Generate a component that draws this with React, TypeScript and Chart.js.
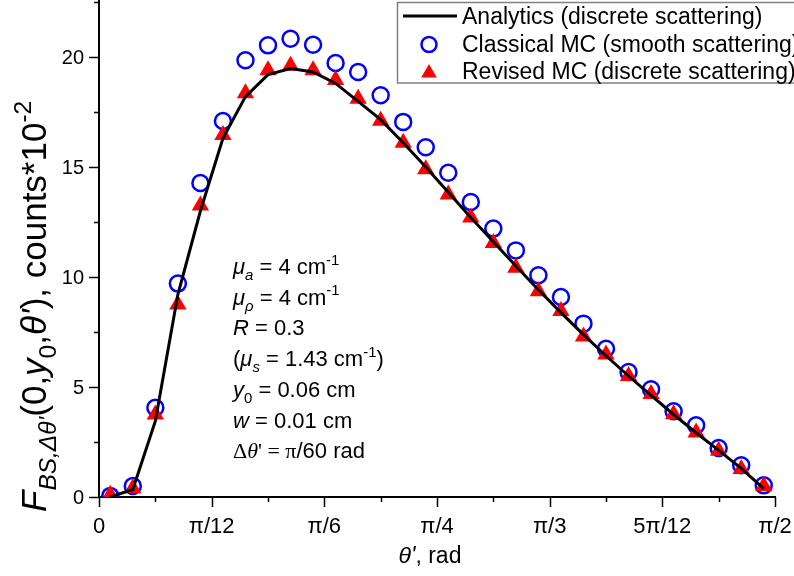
import React, { useEffect, useRef } from "react";
import { Chart, registerables } from "chart.js";

Chart.register(...registerables);

// bin centres in units of pi/120 (bin width pi/60)
const binCentres = [1, 3, 5, 7, 9, 11, 13, 15, 17, 19, 21, 23, 25, 27, 29, 31, 33, 35, 37, 39, 41, 43, 45, 47, 49, 51, 53, 55, 57, 59];

const analytics = [0.0, 0.34, 3.45, 9.2, 13.0, 16.3, 18.2, 19.2, 19.48, 19.32, 18.8, 17.98, 17.15, 16.1, 15.0, 13.85, 12.7, 11.6, 10.5, 9.42, 8.38, 7.38, 6.42, 5.5, 4.62, 3.75, 2.92, 2.12, 1.3, 0.38];
const classicalMC = [0.05, 0.5, 4.06, 9.7, 14.27, 17.09, 19.85, 20.53, 20.83, 20.56, 19.73, 19.32, 18.26, 17.05, 15.9, 14.74, 13.41, 12.2, 11.21, 10.08, 9.09, 7.88, 6.74, 5.68, 4.9, 3.9, 3.26, 2.23, 1.44, 0.53];
const revisedMC = [0.1, 0.4, 3.75, 8.75, 13.25, 16.45, 18.35, 19.4, 19.6, 19.4, 18.95, 18.1, 17.1, 16.1, 14.9, 13.75, 12.7, 11.55, 10.42, 9.35, 8.45, 7.3, 6.48, 5.5, 4.68, 3.76, 2.93, 2.1, 1.27, 0.5];

// x ticks in units of pi/24
const xTickNums = [0, 1, 2, 3, 4, 5, 6, 7, 8, 9, 10, 11, 12];
const xTickLabels = ["0", "", "π/12", "", "π/6", "", "π/4", "", "π/3", "", "5π/12", "", "π/2"];
const yTickVals = [0, 2.5, 5, 7.5, 10, 12.5, 15, 17.5, 20, 22.5];
const yTickLabels = ["0", "", "5", "", "10", "", "15", "", "20", ""];

const legendLabels = ["Analytics (discrete scattering)", "Classical MC (smooth scattering)", "Revised MC (discrete scattering)"];

type Seg = { t: string; it?: boolean; pos?: "sub" | "sup"; serif?: boolean };

const annotationLines: Seg[][] = [
  [{ t: "μ", it: true }, { t: "a", it: true, pos: "sub" }, { t: " = 4 cm" }, { t: "-1", pos: "sup" }],
  [{ t: "μ", it: true }, { t: "ρ", it: true, pos: "sub" }, { t: " = 4 cm" }, { t: "-1", pos: "sup" }],
  [{ t: "R", it: true }, { t: " = 0.3" }],
  [{ t: "(" }, { t: "μ", it: true }, { t: "s", it: true, pos: "sub" }, { t: " = 1.43 cm" }, { t: "-1", pos: "sup" }, { t: ")" }],
  [{ t: "y", it: true }, { t: "0", pos: "sub" }, { t: " = 0.06 cm" }],
  [{ t: "w", it: true }, { t: " = 0.01 cm" }],
  [{ t: "Δ", serif: true }, { t: "θ", it: true, serif: true }, { t: "' = π", serif: true }, { t: "/60 rad" }],
];

const yTitle: Seg[] = [
  { t: "F", it: true },
  { t: "BS,Δθ'", it: true, pos: "sub" },
  { t: "(0," },
  { t: "y", it: true },
  { t: "0", pos: "sub" },
  { t: "," },
  { t: "θ'", it: true },
  { t: "), counts*10" },
  { t: "-2", pos: "sup" },
];
const xTitle: Seg[] = [{ t: "θ'", it: true }, { t: ", rad" }];

const SANS = '"Liberation Sans", Arial, sans-serif';
const SERIF = '"Liberation Serif", "Times New Roman", serif';

function drawRich(ctx: CanvasRenderingContext2D, segs: Seg[], x: number, y: number, size: number, subScale = 0.68, measureOnly = false): number {
  let cx = x;
  for (const s of segs) {
    const sz = s.pos ? size * subScale : size;
    ctx.font = `${s.it ? "italic " : ""}${sz}px ${s.serif ? SERIF : SANS}`;
    const dy = s.pos === "sub" ? size * 0.28 : s.pos === "sup" ? -size * 0.42 : 0;
    if (!measureOnly) ctx.fillText(s.t, cx, y + dy);
    cx += ctx.measureText(s.t).width;
  }
  return cx - x;
}

function triangle(ctx: CanvasRenderingContext2D, x: number, y: number, r: number) {
  ctx.beginPath();
  for (let i = 0; i < 3; i++) {
    const a = (i * 2 * Math.PI) / 3;
    const px = x + Math.sin(a) * r;
    const py = y - Math.cos(a) * r;
    if (i === 0) ctx.moveTo(px, py);
    else ctx.lineTo(px, py);
  }
  ctx.closePath();
  ctx.fill();
}

const decorPlugin = {
  id: "decor",
  beforeDatasetsDraw(chart: any) {
    const ctx: CanvasRenderingContext2D = chart.ctx;
    const xs = chart.scales.x;
    const ys = chart.scales.y;
    const left = chart.chartArea.left;
    const bottom = chart.chartArea.bottom;
    const right = chart.chartArea.right;
    ctx.save();
    ctx.strokeStyle = "#000";
    ctx.lineWidth = 2;
    ctx.beginPath();
    ctx.moveTo(left, 0);
    ctx.lineTo(left, bottom);
    ctx.lineTo(right + 1, bottom);
    ctx.stroke();
    ctx.lineWidth = 1.5;
    ctx.beginPath();
    xTickNums.forEach((n, i) => {
      const px = Math.round(xs.getPixelForValue((n * Math.PI) / 24)) + 0.5;
      const len = xTickLabels[i] ? 10 : 5;
      ctx.moveTo(px, bottom);
      ctx.lineTo(px, bottom + len);
    });
    yTickVals.forEach((v, i) => {
      const py = Math.round(ys.getPixelForValue(v)) + 0.5;
      const len = yTickLabels[i] ? 10 : 5;
      ctx.moveTo(left, py);
      ctx.lineTo(left - len, py);
    });
    ctx.stroke();
    // tick labels
    ctx.fillStyle = "#000";
    ctx.textBaseline = "alphabetic";
    ctx.font = `22px ${SANS}`;
    ctx.textAlign = "center";
    xTickNums.forEach((n, i) => {
      if (!xTickLabels[i]) return;
      ctx.fillText(xTickLabels[i], xs.getPixelForValue((n * Math.PI) / 24), bottom + 36);
    });
    ctx.font = `20px ${SANS}`;
    ctx.textAlign = "right";
    yTickVals.forEach((v, i) => {
      if (!yTickLabels[i]) return;
      ctx.fillText(yTickLabels[i], left - 15, ys.getPixelForValue(v) + 7);
    });
    ctx.restore();
  },
  afterDraw(chart: any) {
    const ctx: CanvasRenderingContext2D = chart.ctx;
    ctx.save();
    ctx.fillStyle = "#000";
    ctx.textBaseline = "alphabetic";
    ctx.textAlign = "left";
    // annotation
    const baseY = 274;
    annotationLines.forEach((segs, i) => {
      drawRich(ctx, segs, 233, baseY + i * 30.7, 22);
    });
    // x title
    const xw = drawRich(ctx, xTitle, 0, 0, 23, 0.68, true);
    drawRich(ctx, xTitle, 430 - xw / 2, 563, 23);
    // y title rotated
    ctx.save();
    ctx.translate(46, 512);
    ctx.rotate(-Math.PI / 2);
    drawRich(ctx, yTitle, 0, 0, 35, 0.7);
    ctx.restore();

    // legend
    ctx.fillStyle = "#fff";
    ctx.fillRect(397, 2, 400, 81);
    ctx.strokeStyle = "#808080";
    ctx.lineWidth = 1.5;
    ctx.strokeRect(397.5, 2.5, 400, 80.5);
    ctx.strokeStyle = "#000";
    ctx.lineWidth = 3;
    ctx.beginPath();
    ctx.moveTo(403, 16);
    ctx.lineTo(457, 16);
    ctx.stroke();
    ctx.strokeStyle = "#0000ff";
    ctx.lineWidth = 2.5;
    ctx.beginPath();
    ctx.arc(429, 44.5, 7.5, 0, Math.PI * 2);
    ctx.stroke();
    ctx.fillStyle = "#ff0000";
    triangle(ctx, 429, 73, 9);
    ctx.fillStyle = "#000";
    ctx.font = `23px ${SANS}`;
    const rowsY = [23.5, 51.5, 79];
    legendLabels.forEach((t, i) => ctx.fillText(t, 462, rowsY[i]));
    ctx.restore();
  },
};

export default function App() {
  const ref = useRef<HTMLCanvasElement | null>(null);
  useEffect(() => {
    document.body.style.margin = "0";
    const canvas = ref.current;
    if (!canvas) return;
    const xv = binCentres.map((n) => (n * Math.PI) / 120);
    const chart = new Chart(canvas, {
      type: "scatter",
      data: {
        datasets: [
          {
            label: legendLabels[0],
            data: xv.map((x, i) => ({ x, y: analytics[i] })),
            showLine: true,
            borderColor: "#000",
            borderWidth: 3,
            pointRadius: 0,
            tension: 0,
            order: 0,
          },
          {
            label: legendLabels[2],
            data: xv.map((x, i) => ({ x, y: revisedMC[i] })),
            pointStyle: "triangle",
            pointRadius: 10,
            backgroundColor: "#ff0000",
            borderColor: "#ff0000",
            borderWidth: 0,
            order: 1,
          },
          {
            label: legendLabels[1],
            data: xv.map((x, i) => ({ x, y: classicalMC[i] })),
            pointStyle: "circle",
            pointRadius: 8,
            backgroundColor: "rgba(0,0,0,0)",
            borderColor: "#0000ff",
            borderWidth: 2.5,
            order: 2,
          },
        ],
      },
      options: {
        animation: false,
        responsive: false,
        events: [],
        layout: { autoPadding: false, padding: { top: 2, right: 19, left: 0, bottom: 0 } },
        plugins: { legend: { display: false }, tooltip: { enabled: false } },
        scales: {
          x: {
            type: "linear",
            min: 0,
            max: Math.PI / 2,
            grid: { display: false, drawTicks: false },
            border: { display: false },
            afterBuildTicks: (scale: any) => {
              scale.ticks = xTickNums.map((n) => ({ value: (n * Math.PI) / 24 }));
            },
            afterFit: (scale: any) => {
              scale.height = 79;
            },
            ticks: { display: false },
          },
          y: {
            type: "linear",
            min: 0,
            max: 22.5,
            grid: { display: false, drawTicks: false },
            border: { display: false },
            afterBuildTicks: (scale: any) => {
              scale.ticks = yTickVals.map((v) => ({ value: v }));
            },
            afterFit: (scale: any) => {
              scale.width = 99;
            },
            ticks: { display: false },
          },
        },
      },
      plugins: [decorPlugin],
    });
    return () => chart.destroy();
  }, []);
  return (
    <div style={{ position: "fixed", left: 0, top: 0, width: 794, height: 576, background: "#fff" }}>
      <canvas ref={ref} width={794} height={576} />
    </div>
  );
}
